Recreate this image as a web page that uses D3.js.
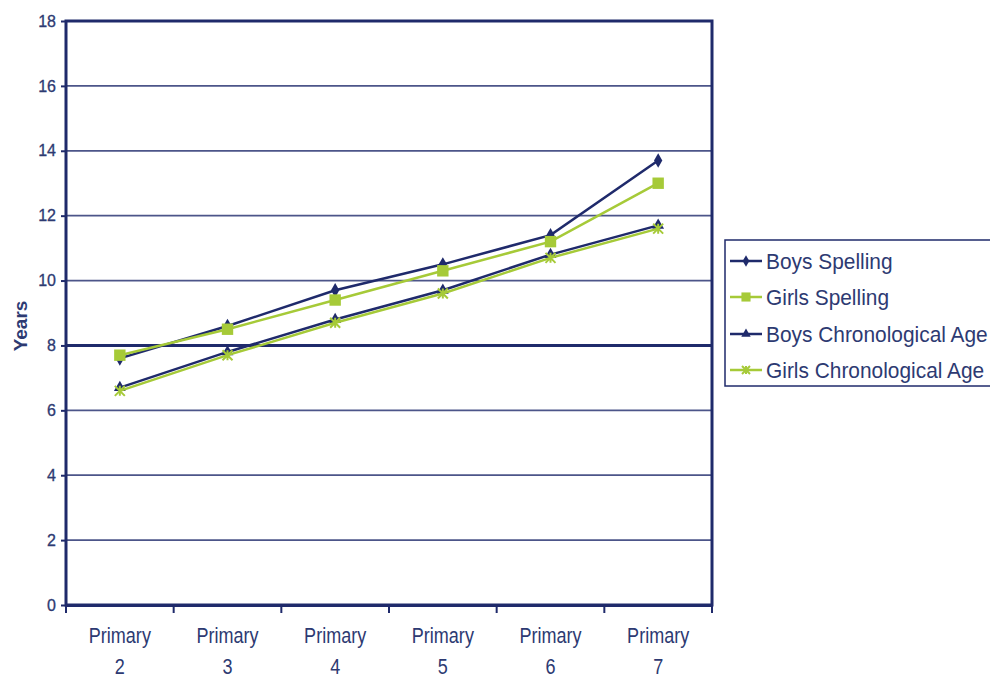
<!DOCTYPE html>
<html><head><meta charset="utf-8">
<script src="https://cdn.jsdelivr.net/npm/d3@7"></script>
<style>body{margin:0;background:#fff}svg{display:block}text{font-family:"Liberation Sans",Arial,sans-serif}</style>
</head><body><svg id="c" width="990" height="677"></svg>
<script>
const categories = ["Primary 2","Primary 3","Primary 4","Primary 5","Primary 6","Primary 7"];
const boysSpelling = [7.6, 8.6, 9.7, 10.5, 11.4, 13.7];
const girlsSpelling = [7.7, 8.5, 9.4, 10.3, 11.2, 13.0];
const boysChrono = [6.7, 7.8, 8.8, 9.7, 10.8, 11.7];
const girlsChrono = [6.6, 7.7, 8.7, 9.6, 10.7, 11.6];
const yTicks = [0,2,4,6,8,10,12,14,16,18];
const seriesNames = ["Boys Spelling","Girls Spelling","Boys Chronological Age","Girls Chronological Age"];

const navy = "#1f2a6b", green = "#a6ca38", textc = "#2d3a72";
const series = [
  {name: seriesNames[0], values: boysSpelling, color: navy, sym: "diamond"},
  {name: seriesNames[1], values: girlsSpelling, color: green, sym: "square"},
  {name: seriesNames[2], values: boysChrono, color: navy, sym: "triangle"},
  {name: seriesNames[3], values: girlsChrono, color: green, sym: "x"}
];
const svg = d3.select("#c");
const L = 66, R = 712, T = 21, B = 605;
const x = d3.scaleBand().domain(categories).range([L, R]);
const y = d3.scaleLinear().domain([0, 18]).range([B, T]);

// gridlines
svg.append("g").selectAll("line").data(yTicks.filter(d => d > 0 && d < 18)).join("line")
  .attr("x1", L).attr("x2", R).attr("y1", d => y(d)).attr("y2", d => y(d))
  .attr("stroke", navy).attr("stroke-opacity", d => d === 8 ? 1 : 0.8)
  .attr("stroke-width", d => d === 8 ? 3 : 1.8);

// border
svg.append("rect").attr("x", L).attr("y", T).attr("width", R - L).attr("height", B - T)
  .attr("fill", "none").attr("stroke", navy).attr("stroke-width", 3);

// y axis
const ya = svg.append("g").attr("transform", `translate(${L},0)`)
  .call(d3.axisLeft(y).tickValues(yTicks).tickSize(5).tickPadding(5));
ya.select(".domain").remove();
ya.selectAll("line").attr("stroke", navy).attr("stroke-width", 2);
ya.selectAll("text").attr("fill", textc).attr("font-size", 16)
  .attr("font-family", "Liberation Sans, Arial, sans-serif").attr("stroke", textc).attr("stroke-width", 0.3);

// x axis
const xa = svg.append("g").attr("transform", `translate(0,${B})`)
  .call(d3.axisBottom(x).tickSize(0).tickFormat(""));
xa.select(".domain").attr("stroke", navy).attr("stroke-width", 3);
const bounds = categories.map(c => x(c)).concat([R]);
svg.append("g").selectAll("line").data(bounds).join("line")
  .attr("x1", d => d).attr("x2", d => d).attr("y1", B).attr("y2", B + 8)
  .attr("stroke", navy).attr("stroke-width", 2);
const xl = svg.append("g").selectAll("text").data(categories).join("text")
  .attr("transform", d => `translate(${x(d) + x.bandwidth() / 2},0) scale(0.82,1)`)
  .attr("text-anchor", "middle")
  .attr("fill", textc).attr("font-size", 22);
xl.append("tspan").attr("x", 0).attr("y", 643).text(d => d.split(" ")[0]);
xl.append("tspan").attr("x", 0).attr("y", 674).text(d => d.split(" ")[1]);

// y title
svg.append("text").attr("transform", "translate(27,326) rotate(-90)").attr("text-anchor", "middle")
  .attr("fill", textc).attr("font-size", 19).attr("font-weight", "bold").text("Years");

// lines
const line = d3.line().x((d, i) => x(categories[i]) + x.bandwidth() / 2).y(d => y(d));
const symMap = {diamond: d3.symbolDiamond, square: d3.symbolSquare, triangle: d3.symbolTriangle};
function drawSym(g, s, cx, cy, scale) {
  if (s.sym === "x") {
    const r = 5 * scale;
    g.append("path").attr("d", `M${cx-r},${cy-r}L${cx+r},${cy+r}M${cx-r},${cy+r}L${cx+r},${cy-r}M${cx},${cy-r}L${cx},${cy+r}`)
      .attr("stroke", s.color).attr("stroke-width", 2).attr("fill", "none");
  } else {
    const size = s.sym === "square" ? 130 : 60;
    g.append("path").attr("d", d3.symbol().type(symMap[s.sym]).size(size * scale * scale)())
      .attr("transform", `translate(${cx},${cy})`).attr("fill", s.color);
  }
}
const order = [2, 3, 0, 1];
order.forEach(k => {
  const s = series[k];
  const g = svg.append("g");
  g.append("path").datum(s.values).attr("d", line).attr("fill", "none")
    .attr("stroke", s.color).attr("stroke-width", 2.5);
  s.values.forEach((v, i) => drawSym(g, s, x(categories[i]) + x.bandwidth() / 2, y(v), 1));
});

// legend
const lg = svg.append("g");
lg.append("rect").attr("x", 725).attr("y", 240).attr("width", 280).attr("height", 146)
  .attr("fill", "#fff").attr("stroke", navy).attr("stroke-width", 1.5);
const ly = [261, 297, 334, 370];
series.forEach((s, i) => {
  const g = lg.append("g");
  g.append("line").attr("x1", 730).attr("x2", 762).attr("y1", ly[i]).attr("y2", ly[i])
    .attr("stroke", s.color).attr("stroke-width", 2.5);
  drawSym(g, s, 746, ly[i], 0.8);
  g.append("text").attr("transform", `translate(766,${ly[i] + 8}) scale(0.95,1)`).attr("fill", textc)
    .attr("font-size", 22).text(s.name);
});
</script></body></html>
